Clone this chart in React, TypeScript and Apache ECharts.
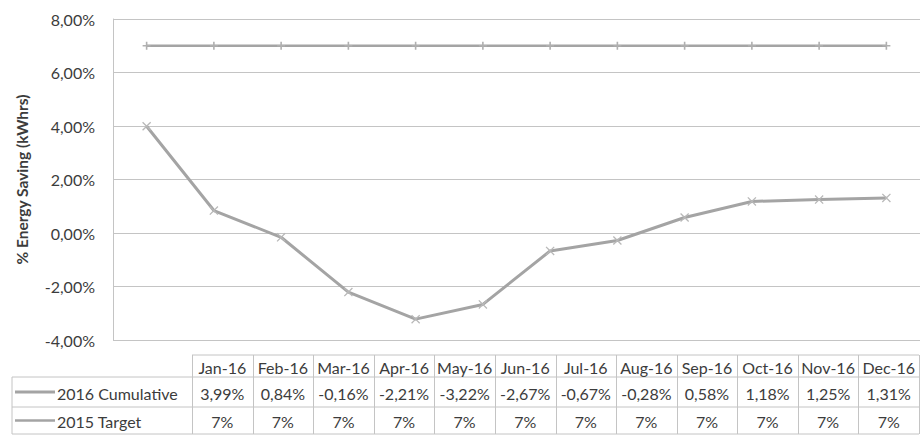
import React, { useEffect, useRef } from "react";
import * as echarts from "echarts";

// Monthly categories and series values (in %)
const months = ["Jan-16", "Feb-16", "Mar-16", "Apr-16", "May-16", "Jun-16", "Jul-16", "Aug-16", "Sep-16", "Oct-16", "Nov-16", "Dec-16"];
const cumulative2016 = [3.99, 0.84, -0.16, -2.21, -3.22, -2.67, -0.67, -0.28, 0.58, 1.18, 1.25, 1.31];
const target2015 = [7, 7, 7, 7, 7, 7, 7, 7, 7, 7, 7, 7];
const seriesNames = ["2016 Cumulative", "2015 Target"];
const yTicks = { min: -4, max: 8, interval: 2 };

const FONT = "Lato, 'Open Sans', sans-serif";
const TEXT = "#3c3c3c";
const GRID_LINE = "#c4c4c4";
const LINE_GREY = "#a4a4a4";

const CROSS = "path://M0,1 L1,0 L5,4 L9,0 L10,1 L6,5 L10,9 L9,10 L5,6 L1,10 L0,9 L4,5 Z";
const PLUS = "path://M4,0 H6 V4 H10 V6 H6 V10 H4 V6 H0 V4 H4 Z";

const fmtPct = (v: number) => v.toFixed(2).replace(".", ",") + "%";
const fmtTarget = (v: number) => v.toFixed(0) + "%";

function buildTable(): any[] {
  const left = 12;
  const colStart = 192;
  const colEnd = 919;
  const colW = (colEnd - colStart) / months.length;
  const yHeadTop = 355;
  const yRow1 = 377;
  const yRow2 = 407;
  const yBottom = 434;
  const els: any[] = [];
  const line = (x1: number, y1: number, x2: number, y2: number) =>
    els.push({ type: "line", shape: { x1, y1, x2, y2 }, style: { stroke: GRID_LINE, lineWidth: 1 }, silent: true });

  line(colStart, yHeadTop, colEnd, yHeadTop);
  line(left, yRow1, colEnd, yRow1);
  line(left, yRow2, colEnd, yRow2);
  line(left, yBottom, colEnd, yBottom);
  line(left, yRow1, left, yBottom);
  for (let i = 0; i <= months.length; i++) {
    const x = Math.round(colStart + i * colW) + 0.5;
    line(x, yHeadTop, x, yBottom);
  }

  const txt = (s: string, x: number, y: number, align: string) =>
    els.push({
      type: "text",
      x,
      y,
      style: { text: s, fill: TEXT, font: `16px ${FONT}`, align, verticalAlign: "middle" },
      silent: true,
    });

  months.forEach((m, i) => {
    const cx = colStart + (i + 0.5) * colW;
    txt(m, cx, (yHeadTop + yRow1) / 2 + 1, "center");
    txt(fmtPct(cumulative2016[i]), cx, (yRow1 + yRow2) / 2 + 1, "center");
    txt(fmtTarget(target2015[i]), cx, (yRow2 + yBottom) / 2 + 1, "center");
  });

  // legend keys inside the table
  const keyY1 = (yRow1 + yRow2) / 2;
  const keyY2 = (yRow2 + yBottom) / 2;
  els.push({ type: "line", shape: { x1: 15, y1: keyY1, x2: 55, y2: keyY1 }, style: { stroke: LINE_GREY, lineWidth: 3 }, silent: true });
  els.push({ type: "line", shape: { x1: 15, y1: keyY2, x2: 55, y2: keyY2 }, style: { stroke: LINE_GREY, lineWidth: 2.5 }, silent: true });
  txt(seriesNames[0], 57, keyY1 + 1, "left");
  txt(seriesNames[1], 57, keyY2 + 1, "left");
  return els;
}

export default function App() {
  const ref = useRef<HTMLDivElement>(null);

  useEffect(() => {
    document.body.style.margin = "0";
    if (!ref.current) return;
    const chart = echarts.init(ref.current, null, { renderer: "svg" });
    chart.setOption({
      animation: false,
      backgroundColor: "#ffffff",
      textStyle: { fontFamily: FONT },
      grid: { left: 113, right: 4, top: 19, bottom: 95 },
      xAxis: {
        type: "category",
        data: months,
        boundaryGap: true,
        axisLine: { show: false },
        axisTick: { show: false },
        axisLabel: { show: false },
      },
      yAxis: {
        type: "value",
        min: yTicks.min,
        max: yTicks.max,
        interval: yTicks.interval,
        name: "% Energy Saving (kWhrs)",
        nameLocation: "middle",
        nameGap: 83,
        nameTextStyle: { color: TEXT, fontSize: 15.5, fontWeight: "bold", fontFamily: FONT },
        axisLine: { show: true, lineStyle: { color: GRID_LINE, width: 1 } },
        axisTick: { show: false },
        axisLabel: { color: TEXT, fontSize: 16, margin: 18, formatter: (v: number) => fmtPct(v) },
        splitLine: { lineStyle: { color: GRID_LINE, width: 1 } },
      },
      series: [
        {
          name: seriesNames[0],
          type: "line",
          data: cumulative2016,
          symbol: CROSS,
          symbolSize: 9,
          lineStyle: { color: LINE_GREY, width: 3 },
          itemStyle: { color: "#b8b8b8" },
        },
        {
          name: seriesNames[1],
          type: "line",
          data: target2015,
          symbol: PLUS,
          symbolSize: 8,
          lineStyle: { color: LINE_GREY, width: 2.5 },
          itemStyle: { color: "#b0b0b0" },
        },
      ],
      graphic: buildTable(),
    });
    return () => chart.dispose();
  }, []);

  return <div ref={ref} style={{ width: 924, height: 435 }} />;
}
